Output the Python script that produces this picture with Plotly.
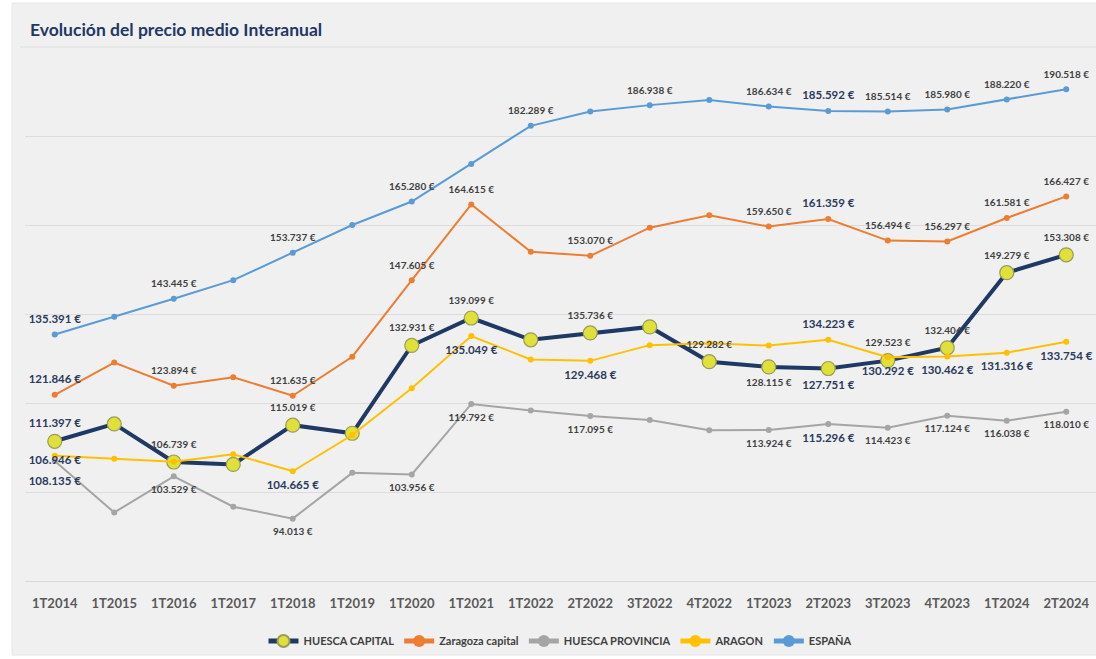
import plotly.graph_objects as go

categories = ["1T2014", "1T2015", "1T2016", "1T2017", "1T2018", "1T2019", "1T2020",
              "1T2021", "1T2022", "2T2022", "3T2022", "4T2022", "1T2023", "2T2023",
              "3T2023", "4T2023", "1T2024", "2T2024"]

huesca_capital = [111.397, 115.3, 106.739, 106.2, 115.019, 113.2, 132.931, 139.099, 134.2,
                  135.736, 137.1, 129.282, 128.115, 127.751, 129.523, 132.406, 149.279, 153.308]
zaragoza_capital = [121.846, 129.1, 123.894, 125.8, 121.635, 130.4, 147.605, 164.615, 154.0,
                    153.070, 159.4, 162.2, 159.650, 161.359, 156.494, 156.297, 161.581, 166.427]
huesca_provincia = [106.946, 95.4, 103.529, 96.7, 94.013, 104.3, 103.956, 119.792, 118.3,
                    117.095, 116.2, 113.9, 113.924, 115.296, 114.423, 117.124, 116.038, 118.010]
aragon = [108.135, 107.5, 106.8, 108.5, 104.665, 112.8, 123.3, 135.049, 129.8,
          129.468, 133.0, 133.4, 132.9, 134.223, 130.292, 130.462, 131.316, 133.754]
espana = [135.391, 139.4, 143.445, 147.6, 153.737, 160.0, 165.280, 173.7, 182.289,
          185.5, 186.938, 188.1, 186.634, 185.592, 185.514, 185.980, 188.220, 190.518]

# which points carry a data label (index -> label placement), and highlighted labels
labels_hc = {0: "top", 2: "top", 4: "top", 6: "top", 7: "top", 9: "top", 11: "top",
             12: "bottom", 13: "bottom", 14: "top", 15: "top", 16: "top", 17: "top"}
emph_hc = {0, 13}
labels_zc = {i: "top" for i in [0, 2, 4, 6, 7, 9, 12, 13, 14, 15, 16, 17]}
emph_zc = {0, 13}
labels_hp = {0: "middle", 2: "bottom", 4: "bottom", 6: "bottom", 7: "bottom", 9: "bottom",
             12: "bottom", 13: "bottom", 14: "bottom", 15: "bottom", 16: "bottom", 17: "bottom"}
emph_hp = {0, 13}
labels_ar = {0: "bottom", 4: "bottom", 7: "bottom", 9: "bottom", 13: "top", 14: "bottom",
             15: "bottom", 16: "bottom", 17: "bottom"}
emph_ar = {0, 4, 7, 9, 13, 14, 15, 16, 17}
labels_es = {i: "top" for i in [0, 2, 4, 6, 8, 10, 12, 13, 14, 15, 16, 17]}
emph_es = {0, 13}
# extra gap (label offset) for specific labels
wide_gap_ar = {0}

FONT = "Lato"
EMPH_COLOR = "#2b3a5c"
REG_COLOR = "#404040"


def label_props(values, labels, emph):
    text, pos, colors, sizes = [], [], [], []
    for i, v in enumerate(values):
        if i in labels:
            text.append(f"<b>{v:.3f} €</b>")
            pos.append(f"{labels[i]} center")
        else:
            text.append("")
            pos.append("top center")
        if i in emph:
            colors.append(EMPH_COLOR)
            sizes.append(11.5)
        else:
            colors.append(REG_COLOR)
            sizes.append(10)
    return text, pos, colors, sizes


fig = go.Figure()

series = [
    ("HUESCA CAPITAL", huesca_capital, labels_hc, emph_hc, set(),
     dict(color="#1f3864", width=4),
     dict(size=14, color="#e0e03a", line=dict(color="#9a9a5c", width=1.2)), 17),
    ("Zaragoza capital", zaragoza_capital, labels_zc, emph_zc, set(),
     dict(color="#ed7d31", width=2), dict(size=6, color="#ed7d31"), 13),
    ("HUESCA PROVINCIA", huesca_provincia, labels_hp, emph_hp, set(),
     dict(color="#a5a5a5", width=2), dict(size=6, color="#a5a5a5"), 13),
    ("ARAGON", aragon, labels_ar, emph_ar, wide_gap_ar,
     dict(color="#ffc000", width=2), dict(size=6, color="#ffc000"), 13),
    ("ESPAÑA", espana, labels_es, emph_es, set(),
     dict(color="#5b9bd5", width=2), dict(size=6, color="#5b9bd5"), 13),
]

for name, vals, labels, emph, wide, line, marker, gap in series:
    fig.add_trace(go.Scatter(
        x=categories, y=vals, name=name, mode="lines+markers",
        line=line, marker=marker, cliponaxis=False, legendgroup=name,
    ))

for name, vals, labels, emph, wide, line, marker, gap in series:
    text, pos, colors, sizes = label_props(vals, labels, emph)
    gaps = [gap + 18 if i in wide else gap for i in range(len(vals))]
    fig.add_trace(go.Scatter(
        x=categories, y=vals, name=name, mode="markers+text", showlegend=False,
        legendgroup=name, marker=dict(size=gaps, opacity=0), text=text, textposition=pos,
        textfont=dict(family=FONT, color=colors, size=sizes), cliponaxis=False,
        hoverinfo="skip",
    ))

W, H = 1096, 659
ml, mr, mt, mb = 25, 0, 47, 78
pw, ph = W - ml - mr, H - mt - mb

fig.add_shape(type="rect", xref="paper", yref="paper", layer="below",
              x0=(12 - ml) / pw, x1=1.05, y0=-(655 - mt - ph) / ph, y1=(ph + mt - 3) / ph,
              fillcolor="#f0f0f0", line=dict(color="#e6e6e6", width=1))
fig.add_shape(type="line", xref="paper", yref="paper", layer="below",
              x0=(20 - ml) / pw, x1=1.0, y0=1.0, y1=1.0,
              line=dict(color="#dcdcdc", width=1))

fig.update_layout(
    width=W, height=H,
    margin=dict(l=ml, r=mr, t=mt, b=mb),
    paper_bgcolor="white", plot_bgcolor="rgba(0,0,0,0)",
    font=dict(family=FONT),
    title=dict(text="<b>Evolución del precio medio Interanual</b>",
               x=30 / W, xanchor="left", xref="container",
               y=1 - 30 / H, yanchor="middle", yref="container",
               font=dict(family=FONT, size=17.5, color="#1f3864")),
    showlegend=True,
    legend=dict(orientation="h", x=0.5, xanchor="center", y=-(641 - mt - ph) / ph,
                yanchor="middle", font=dict(family=FONT, size=11, color="#404040", weight="bold"),
                bgcolor="rgba(0,0,0,0)", itemwidth=30, itemsizing="constant"),
    xaxis=dict(type="category", range=[-0.5, 17.5], showgrid=False, showline=True,
               linecolor="#d9d9d9", linewidth=1, ticks="", ticklabelstandoff=10,
               tickfont=dict(family=FONT, size=13, color="#595959", weight="bold"),
               fixedrange=True),
    yaxis=dict(range=[80, 200], dtick=20, showgrid=True, gridcolor="#dcdcdc", gridwidth=1,
               showticklabels=False, zeroline=False, showline=False, fixedrange=True),
)

fig.write_html("out.html")
